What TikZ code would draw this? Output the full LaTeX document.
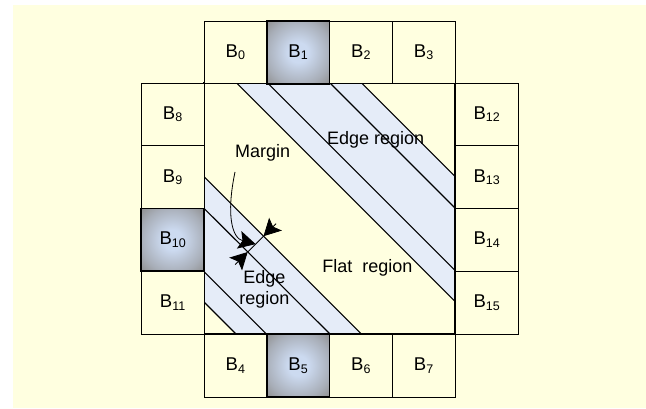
\documentclass[tikz,border=0pt]{standalone}
\usepackage{fontspec}
\setmainfont{Liberation Sans}
\usetikzlibrary{arrows.meta,shadings}
\definecolor{bgyellow}{HTML}{FFFFE0}
\definecolor{bandblue}{HTML}{E5ECF8}
\definecolor{shadein}{HTML}{CCDAF0}
\definecolor{shademid}{HTML}{A8AEB8}
\definecolor{shadeout}{HTML}{8E8E8E}
\pgfdeclareradialshading{boxglow}{\pgfpoint{0bp}{0bp}}{color(0bp)=(shadein); color(8bp)=(shadein); color(26bp)=(shademid); color(36bp)=(shadeout); color(50bp)=(shadeout)}
\newcommand{\Bsub}[1]{B\raisebox{-2.5pt}{\fontsize{12.5}{12.5}\selectfont #1}}
\begin{document}
\begin{tikzpicture}[x=1pt,y=-1pt,
 cell/.style={draw=black,line width=0.9pt,fill=bgyellow,minimum width=62.75pt,minimum height=62.75pt,inner sep=0pt,font=\fontsize{18.5}{21}\selectfont},
 hot/.style={cell,line width=1.8pt,shading=boxglow},
 band/.style={fill=bandblue,draw=none},
 diag/.style={line width=1.1pt},
 lbl/.style={font=\fontsize{18}{21}\selectfont,inner sep=0pt,align=center},
 tip/.style={-{Stealth[length=17pt,width=18pt,inset=3.5pt]},line width=0.8pt}]
\useasboundingbox (0,0) rectangle (646,409);
\fill[bgyellow] (13,5) rectangle (646,408);
% main square
\fill[bgyellow] (204,83) rectangle (455,334);
\fill[band] (236.7,83) -- (361.7,83) -- (455,176.3) -- (455,301.3) -- cycle;
\fill[band] (204,176.7) -- (361.3,334) -- (236,334) -- (204,302) -- cycle;
\draw[diag] (236.7,83) -- (455,301.3);
\draw[diag] (267.7,83) -- (455,270.3);
\draw[diag] (330,83) -- (455,208);
\draw[diag] (361.7,83) -- (455,176.3);
\draw[diag] (204,176.7) -- (361.3,334);
\draw[diag] (204,208.3) -- (330,334);
\draw[diag] (204,271.7) -- (266.3,334);
\draw[diag] (204,302) -- (236,334);
\draw[line width=1.8pt] (204,83) rectangle (455,334);
% boxes
\node[cell] (b0) at (235.375,52.375) {\Bsub{0}};
\node[cell] (b2) at (360.875,52.375) {\Bsub{2}};
\node[cell] (b3) at (423.625,52.375) {\Bsub{3}};
\node[cell] (b4) at (235.375,365.625) {\Bsub{4}};
\node[cell] (b6) at (360.875,365.625) {\Bsub{6}};
\node[cell] (b7) at (423.625,365.625) {\Bsub{7}};
\node[cell] (b8) at (172.625,114.375) {\Bsub{8}};
\node[cell] (b9) at (172.625,177.125) {\Bsub{9}};
\node[cell] (b11) at (172.625,302.625) {\Bsub{11}};
\node[cell] (b12) at (486.625,114.375) {\Bsub{12}};
\node[cell] (b13) at (486.625,177.125) {\Bsub{13}};
\node[cell] (b14) at (486.625,239.875) {\Bsub{14}};
\node[cell] (b15) at (486.625,302.625) {\Bsub{15}};
\node[hot] (b1) at (298.125,52.375) {\Bsub{1}};
\node[hot] (b5) at (298.125,365.625) {\Bsub{5}};
\node[hot] (b10) at (172.625,239.875) {\Bsub{10}};
% labels
\node[lbl] (edgeup) at (375.7,139.5) {Edge region};
\node[lbl] (margin) at (262.7,152.7) {Margin};
\node[lbl] (flat) at (367.3,267.7) {Flat\ \ region};
\node[lbl] (edgelow) at (264.3,289.5) {Edge\\region};
% margin dimension
\coordinate (p1) at (263.5,236.2);
\coordinate (p2) at (247.7,252);
\coordinate (q1) at (276,223.7);
\coordinate (q2) at (235.2,264.5);
\coordinate (mid) at (255.6,244.1);
\coordinate (mstart) at (235,172);
\draw[line width=0.8pt] (p1) -- (p2);
\draw[tip] (q1) -- (p1);
\draw[tip] (q2) -- (p2);
\draw[tip] (mstart) .. controls (226,215) and (232,238) .. (mid);
\end{tikzpicture}
\end{document}
